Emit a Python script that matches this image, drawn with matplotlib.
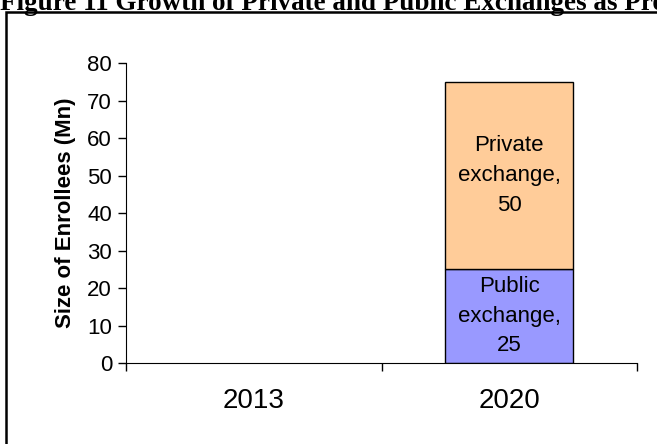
import numpy as np
import matplotlib.pyplot as plt
from matplotlib.patches import Rectangle

years = ['2013', '2020']
public = [0, 25]
private = [0, 50]
public_labels = ['', 'Public\nexchange,\n25']
private_labels = ['', 'Private\nexchange,\n50']
yticks = [0, 10, 20, 30, 40, 50, 60, 70, 80]

plt.rcParams['font.family'] = ['Liberation Sans', 'DejaVu Sans']

fig = plt.figure(figsize=(6.57, 4.44), dpi=100)
ax = fig.add_axes([0.1918, 0.1824, 0.7778, 0.6757])

x = np.arange(len(years)) + 0.5
b1 = ax.bar(x, public, 0.5, color='#9999FF', edgecolor='black', linewidth=1)
b2 = ax.bar(x, private, 0.5, bottom=public, color='#FFCC99', edgecolor='black', linewidth=1)
for c, labs in [(b1, public_labels), (b2, private_labels)]:
    for rect, lab in zip(c, labs):
        if rect.get_height() == 0:
            rect.set_visible(False)
        if lab:
            ax.text(rect.get_x() + rect.get_width() / 2, rect.get_y() + rect.get_height() / 2, lab,
                    ha='center', va='center', fontsize=16, linespacing=1.55)

ax.set_xlim(0, len(years))
ax.set_ylim(0, 80)
ax.set_yticks(yticks)
ax.set_xticks(np.arange(len(years) + 1))
ax.set_xticklabels([])
ax.set_xticks(x, minor=True)
ax.set_xticklabels(years, minor=True, fontsize=20)
ax.tick_params(axis='x', which='minor', length=0, pad=18)
ax.tick_params(axis='x', which='major', length=6, direction='out', width=1)
ax.tick_params(axis='y', length=6, direction='out', width=1, labelsize=16, pad=4)
ax.spines['top'].set_visible(False)
ax.spines['right'].set_visible(False)
ax.set_ylabel('Size of Enrollees (Mn)', fontsize=16, fontweight='bold', labelpad=8)

# frame around the chart
fig.patches.append(Rectangle((6 / 657, -0.2), 1.2, 1.2 - 12 / 444, transform=fig.transFigure,
                             fill=False, edgecolor='black', linewidth=1.8))
fig.text(0, 1 - 10 / 444, 'Figure 11 Growth of Private and Public Exchanges as Pro',
         fontsize=19.5, fontweight='bold', family='Liberation Serif', ha='left', va='baseline')

fig.savefig('out.png', dpi=100)
